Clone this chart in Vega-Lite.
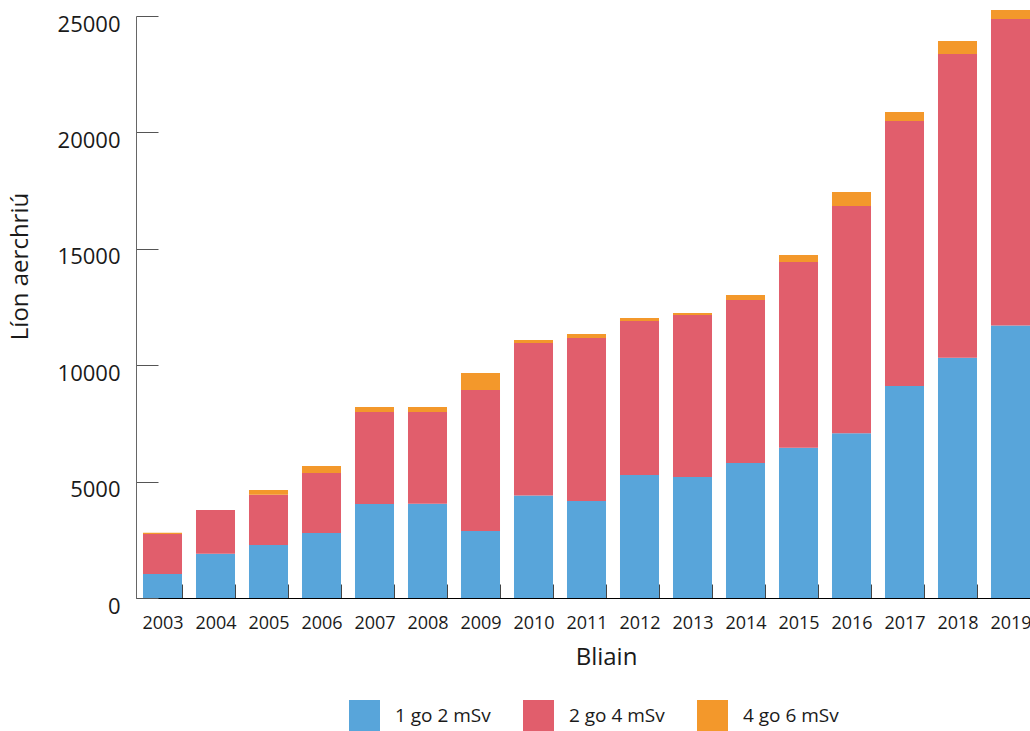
{
  "$schema": "https://vega.github.io/schema/vega-lite/v6.json",
  "width": 894,
  "height": 582,
  "autosize": {"type": "none"},
  "padding": {"left": 136, "top": 16, "right": 0, "bottom": 133},
  "background": "white",
  "config": {"view": {"stroke": null}, "font": "Open Sans"},
  "data": {"values": [
    {"year": "2003", "band": "1 go 2 mSv", "k": 1, "value": 1030},
    {"year": "2003", "band": "2 go 4 mSv", "k": 2, "value": 1720},
    {"year": "2003", "band": "4 go 6 mSv", "k": 3, "value": 55},
    {"year": "2004", "band": "1 go 2 mSv", "k": 1, "value": 1900},
    {"year": "2004", "band": "2 go 4 mSv", "k": 2, "value": 1880},
    {"year": "2004", "band": "4 go 6 mSv", "k": 3, "value": 0},
    {"year": "2005", "band": "1 go 2 mSv", "k": 1, "value": 2280},
    {"year": "2005", "band": "2 go 4 mSv", "k": 2, "value": 2150},
    {"year": "2005", "band": "4 go 6 mSv", "k": 3, "value": 210},
    {"year": "2006", "band": "1 go 2 mSv", "k": 1, "value": 2790},
    {"year": "2006", "band": "2 go 4 mSv", "k": 2, "value": 2580},
    {"year": "2006", "band": "4 go 6 mSv", "k": 3, "value": 300},
    {"year": "2007", "band": "1 go 2 mSv", "k": 1, "value": 4040},
    {"year": "2007", "band": "2 go 4 mSv", "k": 2, "value": 3950},
    {"year": "2007", "band": "4 go 6 mSv", "k": 3, "value": 215},
    {"year": "2008", "band": "1 go 2 mSv", "k": 1, "value": 4050},
    {"year": "2008", "band": "2 go 4 mSv", "k": 2, "value": 3940},
    {"year": "2008", "band": "4 go 6 mSv", "k": 3, "value": 215},
    {"year": "2009", "band": "1 go 2 mSv", "k": 1, "value": 2880},
    {"year": "2009", "band": "2 go 4 mSv", "k": 2, "value": 6055},
    {"year": "2009", "band": "4 go 6 mSv", "k": 3, "value": 730},
    {"year": "2010", "band": "1 go 2 mSv", "k": 1, "value": 4400},
    {"year": "2010", "band": "2 go 4 mSv", "k": 2, "value": 6555},
    {"year": "2010", "band": "4 go 6 mSv", "k": 3, "value": 130},
    {"year": "2011", "band": "1 go 2 mSv", "k": 1, "value": 4170},
    {"year": "2011", "band": "2 go 4 mSv", "k": 2, "value": 7000},
    {"year": "2011", "band": "4 go 6 mSv", "k": 3, "value": 170},
    {"year": "2012", "band": "1 go 2 mSv", "k": 1, "value": 5285},
    {"year": "2012", "band": "2 go 4 mSv", "k": 2, "value": 6615},
    {"year": "2012", "band": "4 go 6 mSv", "k": 3, "value": 130},
    {"year": "2013", "band": "1 go 2 mSv", "k": 1, "value": 5200},
    {"year": "2013", "band": "2 go 4 mSv", "k": 2, "value": 6960},
    {"year": "2013", "band": "4 go 6 mSv", "k": 3, "value": 85},
    {"year": "2014", "band": "1 go 2 mSv", "k": 1, "value": 5800},
    {"year": "2014", "band": "2 go 4 mSv", "k": 2, "value": 7000},
    {"year": "2014", "band": "4 go 6 mSv", "k": 3, "value": 215},
    {"year": "2015", "band": "1 go 2 mSv", "k": 1, "value": 6455},
    {"year": "2015", "band": "2 go 4 mSv", "k": 2, "value": 7980},
    {"year": "2015", "band": "4 go 6 mSv", "k": 3, "value": 300},
    {"year": "2016", "band": "1 go 2 mSv", "k": 1, "value": 7075},
    {"year": "2016", "band": "2 go 4 mSv", "k": 2, "value": 9765},
    {"year": "2016", "band": "4 go 6 mSv", "k": 3, "value": 600},
    {"year": "2017", "band": "1 go 2 mSv", "k": 1, "value": 9105},
    {"year": "2017", "band": "2 go 4 mSv", "k": 2, "value": 11385},
    {"year": "2017", "band": "4 go 6 mSv", "k": 3, "value": 385},
    {"year": "2018", "band": "1 go 2 mSv", "k": 1, "value": 10325},
    {"year": "2018", "band": "2 go 4 mSv", "k": 2, "value": 13045},
    {"year": "2018", "band": "4 go 6 mSv", "k": 3, "value": 555},
    {"year": "2019", "band": "1 go 2 mSv", "k": 1, "value": 11700},
    {"year": "2019", "band": "2 go 4 mSv", "k": 2, "value": 13175},
    {"year": "2019", "band": "4 go 6 mSv", "k": 3, "value": 385}
  ]},
  "mark": {"type": "bar"},
  "encoding": {
    "x": {
      "field": "year",
      "type": "ordinal",
      "scale": {"range": [0, 901], "paddingInner": 0.264, "paddingOuter": 0.132},
      "axis": {
        "title": "Bliain",
        "titleFontSize": 24,
        "titleFontWeight": "normal",
        "titleColor": "#1a1a1a",
        "titleX": 470,
        "titleY": 59,
        "titleBaseline": "middle",
        "titleAlign": "center",
        "labelAngle": 0,
        "labelFontSize": 18,
        "labelColor": "#1a1a1a",
        "labelPadding": 30,
        "tickBand": "extent",
        "tickSize": -14,
        "tickColor": "#444444",
        "domainColor": "#000000",
        "grid": false
      }
    },
    "y": {
      "field": "value",
      "type": "quantitative",
      "stack": "zero",
      "scale": {"domain": [0, 25000], "nice": false},
      "axis": {
        "title": "Líon aerchriú",
        "titleFontSize": 24,
        "titleFontWeight": "normal",
        "titleColor": "#1a1a1a",
        "titleX": -116,
        "titleY": 250,
        "titleAlign": "center",
        "titleBaseline": "middle",
        "values": [0, 5000, 10000, 15000, 20000, 25000],
        "format": "d",
        "labelFontSize": 22,
        "labelColor": "#1a1a1a",
        "labelPadding": 38,
        "labelOffset": 8,
        "tickSize": -22,
        "tickColor": "#555555",
        "domainColor": "#666666",
        "grid": false
      }
    },
    "color": {
      "field": "band",
      "type": "nominal",
      "scale": {
        "domain": ["1 go 2 mSv", "2 go 4 mSv", "4 go 6 mSv"],
        "range": ["#58A5DA", "#E15E6C", "#F3982B"]
      },
      "legend": {
        "orient": "none",
        "legendX": 213,
        "legendY": 684,
        "direction": "horizontal",
        "title": null,
        "symbolType": "square",
        "symbolSize": 961,
        "symbolStrokeWidth": 0,
        "symbolOpacity": 1,
        "labelFontSize": 19,
        "labelColor": "#1a1a1a",
        "labelOffset": 15,
        "columnPadding": 32
      }
    },
    "order": {"field": "k"}
  }
}
